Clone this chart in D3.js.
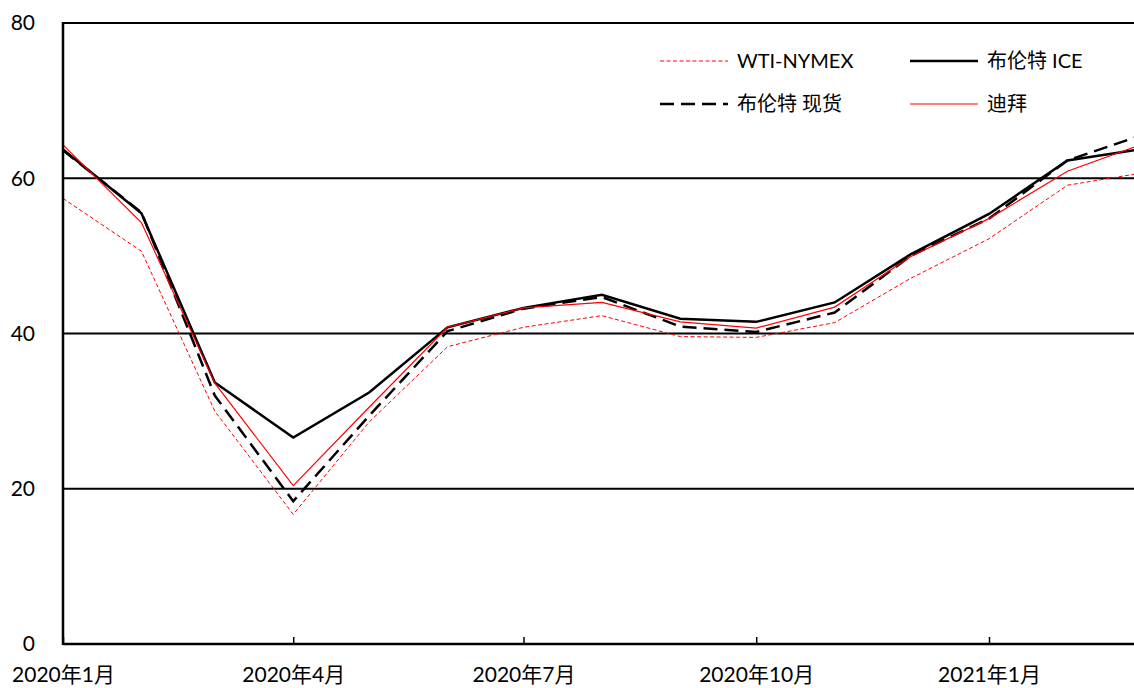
<!DOCTYPE html>
<html>
<head>
<meta charset="utf-8">
<script src="https://cdn.jsdelivr.net/npm/d3@7"></script>
<style>
  body { margin: 0; background: #fff; }
  svg { display: block; font-family: "Lato", "Noto Sans CJK SC", sans-serif; }
</style>
</head>
<body>
<div id="chart"></div>
<script>
// months Jan 2020 .. Mar 2021
const months = ["2020-01","2020-02","2020-03","2020-04","2020-05","2020-06","2020-07","2020-08",
                "2020-09","2020-10","2020-11","2020-12","2021-01","2021-02","2021-03"];
const wti      = [57.4, 50.6, 30.0, 16.7, 28.6, 38.3, 40.8, 42.3, 39.6, 39.5, 41.4, 47.1, 52.2, 59.1, 60.6];
const brentIce = [63.7, 55.5, 33.7, 26.6, 32.4, 40.8, 43.3, 45.0, 41.9, 41.5, 44.0, 50.2, 55.4, 62.3, 63.7];
const brentSpot= [63.6, 55.6, 32.0, 18.4, 29.4, 40.3, 43.2, 44.7, 40.9, 40.2, 42.7, 50.0, 54.8, 62.3, 65.4];
const dubai    = [64.3, 54.3, 33.6, 20.4, 30.5, 40.8, 43.3, 44.0, 41.5, 40.7, 43.4, 49.9, 54.8, 60.9, 64.2];
const yTicks = [0, 20, 40, 60, 80];

const series = [
  { name: "WTI-NYMEX",  values: wti,       color: "#ff0000", width: 1,   dash: "4,2.5" },
  { name: "布伦特 ICE",  values: brentIce,  color: "#000000", width: 2.5, dash: null },
  { name: "布伦特 现货", values: brentSpot, color: "#000000", width: 2.5, dash: "14,7" },
  { name: "迪拜",        values: dubai,     color: "#ff0000", width: 1.2, dash: null }
];

const W = 1134, H = 688;
const parse = d3.timeParse("%Y-%m");
const dates = months.map(parse);

const svg = d3.create("svg").attr("width", W).attr("height", H);

const x = d3.scaleTime()
    .domain([parse("2020-01"), parse("2021-01")])
    .range([63, 989]);
const y = d3.scaleLinear().domain([0, 80]).range([644, 23]);

// grid lines
svg.append("g")
    .selectAll("line")
    .data(yTicks.filter(d => d > 0))
    .join("line")
    .attr("x1", 63).attr("x2", W)
    .attr("y1", d => y(d)).attr("y2", d => y(d))
    .attr("stroke", "#000").attr("stroke-width", 2);

// y labels
svg.append("g")
    .selectAll("text")
    .data(yTicks)
    .join("text")
    .attr("x", 35).attr("y", d => y(d))
    .attr("dy", "0.35em")
    .attr("text-anchor", "end")
    .attr("font-size", 21)
    .text(d => d);

// x axis
const xAxis = d3.axisBottom(x)
    .ticks(d3.timeMonth.every(3))
    .tickSize(-7)
    .tickPadding(23)
    .tickFormat(d => `${d.getFullYear()}年${d.getMonth() + 1}月`);

const gx = svg.append("g")
    .attr("transform", `translate(0,${y(0)})`)
    .call(xAxis);
gx.select(".domain").remove();
gx.selectAll(".tick line").attr("stroke", "#000").attr("stroke-width", 1.5);
gx.selectAll(".tick text")
    .attr("font-family", "Lato, 'Noto Sans CJK SC', sans-serif")
    .attr("font-size", 21).attr("fill", "#000");

// lines
const line = d3.line()
    .x((d, i) => x(dates[i]))
    .y(d => y(d));

series.forEach(s => {
  svg.append("path")
      .datum(s.values)
      .attr("fill", "none")
      .attr("stroke", s.color)
      .attr("stroke-width", s.width)
      .attr("stroke-dasharray", s.dash)
      .attr("stroke-linejoin", "miter")
      .attr("d", line);
});

// axis lines
svg.append("line")
    .attr("x1", 63).attr("x2", 63).attr("y1", y(80) - 1).attr("y2", y(0) + 1)
    .attr("stroke", "#000").attr("stroke-width", 2.5);
svg.append("line")
    .attr("x1", 63).attr("x2", W).attr("y1", y(0)).attr("y2", y(0))
    .attr("stroke", "#000").attr("stroke-width", 2.5);

// legend
const legendPos = [[660, 61], [910, 61], [660, 104], [910, 104]];
const legend = svg.append("g")
    .selectAll("g")
    .data(series)
    .join("g")
    .attr("transform", (d, i) => `translate(${legendPos[i][0]},${legendPos[i][1]})`);

legend.append("line")
    .attr("x1", 0).attr("x2", 68)
    .attr("stroke", d => d.color)
    .attr("stroke-width", d => d.width)
    .attr("stroke-dasharray", d => d.dash);

legend.append("text")
    .attr("x", 77).attr("dy", "0.35em")
    .attr("font-size", 20)
    .text(d => d.name);

document.getElementById("chart").appendChild(svg.node());
</script>
</body>
</html>
